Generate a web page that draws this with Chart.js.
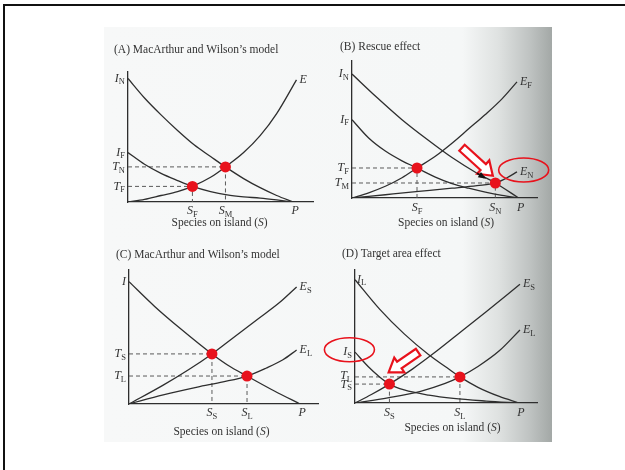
<!DOCTYPE html>
<html lang="en">
<head>
<meta charset="UTF-8" />
<title>Island biogeography models</title>
<script src="https://cdn.jsdelivr.net/npm/chart.js"></script>
<style>
  body { margin: 0; width: 625px; height: 470px; background: #fff; position: relative; overflow: hidden; }
  .frame { position: absolute; left: 3px; top: 4px; width: 660px; height: 500px; border-top: 2px solid #111; border-left: 2px solid #111; }
  .scan { position: absolute; left: 104px; top: 27px; width: 448px; height: 415px;
          background: linear-gradient(to right, #f7f8f8 0%, #f5f7f7 80%, #dfe2e1 88%, #bfc3c2 95%, #a3a8a6 100%); }
  canvas { position: absolute; }
</style>
</head>
<body>
<div class="frame"></div>
<div class="scan"></div>
<canvas id="chartA" width="224" height="210" style="left:104px;top:30px"></canvas>
<canvas id="chartB" width="224" height="210" style="left:328px;top:30px"></canvas>
<canvas id="chartC" width="224" height="202" style="left:104px;top:240px"></canvas>
<canvas id="chartD" width="234" height="202" style="left:318px;top:240px"></canvas>
<script>
// species (x, P = 100) vs rate (y)

// (A) MacArthur and Wilson's model
const aImmNear = [[0,95],[10,80],[20,67],[30,55],[40,44],[50,35],[59,27],[70,18],[80,11],[90,5],[100,0]];
const aImmFar = [[0,38],[10,29],[20,22],[30,16.5],[39,12],[50,8],[60,5.5],[70,4],[80,3],[90,1.6],[100,0]];
const aExt = [[0,0],[10,2],[20,5],[30,8],[39,12],[50,19],[59,27],[70,38],[80,51],[90,68],[102,94]];
const aEquil = [[39,12],[59,27]];

// (B) Rescue effect
const bImmNear = [[0,95],[15,77],[30,60],[45,45],[60,31],[75,19],[86,11.5],[100,0]];
const bImmFar = [[0,60],[10,46],[20,36],[30,28.5],[39,23],[50,16],[60,11],[70,7.5],[80,4.5],[90,2],[100,0]];
const bExtFar = [[0,0],[10,4],[20,9],[30,15.5],[39,23],[50,32],[60,42],[70,53],[80,64],[90,76],[99,89]];
const bExtNear = [[0,0],[20,2.5],[40,5],[60,7.5],[75,9.5],[86,11.5],[93,15.5],[99,20]];
const bEquil = [[39,23],[86,11.5]];

// (C) MacArthur and Wilson's model
const cImm = [[0,94],[15,75],[30,58],[48.5,38.5],[60,28],[69,21.5],[85,10],[100,0]];
const cExtSmall = [[0,0],[20,14.5],[35,26.5],[48.5,38.5],[60,50],[75,65],[88,78],[98,90]];
const cExtLarge = [[0,0],[20,7],[40,13],[55,17],[69,21.5],[80,27.5],[90,34],[98,41.5]];
const cEquil = [[48.5,38.5],[69,21.5]];

// (D) Target area effect
const dImmLarge = [[0,94.6],[15,72],[30,53],[45,37],[55,28],[64,20],[75,12],[88,5],[100,0]];
const dImmSmall = [[0,39],[8,28],[15,20],[21,14.5],[30,10],[45,6],[60,3.5],[80,1.5],[100,0]];
const dExtSmall = [[0,0],[10,6.5],[21,14.5],[35,26],[50,40],[65,55],[80,70],[100.6,91]];
const dExtLarge = [[0,0],[20,4],[40,9],[55,15],[64,20],[75,28],[88,40],[100.6,56]];
const dEquil = [[21,14.5],[64,20]];

// axis labels: [letter, subscript, value]
const aYLabels = [["I","N",95],["I","F",38],["T","N",27],["T","F",12]];
const aXLabels = [["S","F",39],["S","M",59],["P","",100]];
const bYLabels = [["I","N",95],["I","F",60],["T","F",23],["T","M",11.5]];
const bXLabels = [["S","F",39],["S","N",86],["P","",100]];
const cYLabels = [["I","",94],["T","S",38.5],["T","L",21.5]];
const cXLabels = [["S","S",48.5],["S","L",69],["P","",100]];
const dYLabels = [["I","S",39],["T","L",20.5],["T","S",14]];
const dXLabels = [["S","S",21],["S","L",64],["P","",100]];

const INK = "#2e2e2e";
const RED = "#e8121c";
const SERIF = '"Liberation Serif", "DejaVu Serif", serif';

function pts(arr) { return arr.map(p => ({ x: p[0], y: p[1] })); }

function curve(arr) {
  return { data: pts(arr), showLine: true, borderColor: INK, borderWidth: 1.3,
           pointRadius: 0, cubicInterpolationMode: "monotone", order: 2 };
}
function guide(eq) {
  return { data: [{x:0,y:eq[1]},{x:eq[0],y:eq[1]},{x:eq[0],y:0}], showLine: true,
           borderColor: "#5a5a5a", borderWidth: 1, borderDash: [4, 3], pointRadius: 0, order: 3 };
}
function dots(eqs) {
  return { data: pts(eqs), showLine: false, pointRadius: 5.5, pointHoverRadius: 5.5,
           pointBackgroundColor: RED, pointBorderWidth: 0, order: 0 };
}

function subText(ctx, main, sub, x, y, align) {
  ctx.font = "italic 12px " + SERIF;
  const wm = ctx.measureText(main).width;
  ctx.font = "8.5px " + SERIF;
  const ws = ctx.measureText(sub).width;
  let x0 = x;
  if (align === "right") x0 = x - wm - ws;
  if (align === "center") x0 = x - (wm + ws) / 2;
  ctx.textAlign = "left";
  ctx.textBaseline = "middle";
  ctx.font = "italic 12px " + SERIF;
  ctx.fillText(main, x0, y);
  ctx.font = "8.5px " + SERIF;
  ctx.fillText(sub, x0 + wm, y + 3.5);
}

function hollowArrow(ctx, x0, y0, x1, y1) {
  const ang = Math.atan2(y1 - y0, x1 - x0);
  const len = Math.hypot(x1 - x0, y1 - y0);
  const head = 13, hw = 9, sw = 4;
  ctx.save();
  ctx.translate(x0, y0);
  ctx.rotate(ang);
  ctx.beginPath();
  ctx.moveTo(0, -sw);
  ctx.lineTo(len - head, -sw);
  ctx.lineTo(len - head, -hw);
  ctx.lineTo(len, 0);
  ctx.lineTo(len - head, hw);
  ctx.lineTo(len - head, sw);
  ctx.lineTo(0, sw);
  ctx.closePath();
  ctx.fillStyle = "#fff";
  ctx.fill();
  ctx.lineWidth = 2.2;
  ctx.strokeStyle = RED;
  ctx.stroke();
  ctx.restore();
}

const notesPlugin = {
  id: "notes",
  afterDatasetsDraw(chart, args, o) {
    const { ctx, chartArea: ca } = chart;
    const sx = chart.scales.x, sy = chart.scales.y;
    ctx.save();
    ctx.fillStyle = "#333";
    // panel title
    ctx.font = "11.5px " + SERIF;
    ctx.textAlign = "left";
    ctx.textBaseline = "middle";
    ctx.fillText(o.title, ca.left + o.titleOff[0], ca.top + o.titleOff[1]);
    // x axis title
    ctx.textAlign = "center";
    ctx.fillText("Species on island (", sx.getPixelForValue(o.xTitleAt) - 4, ca.bottom + o.xTitleDy);
    const wt = ctx.measureText("Species on island (").width;
    const cx = sx.getPixelForValue(o.xTitleAt) - 4 + wt / 2;
    ctx.font = "italic 11.5px " + SERIF;
    ctx.textAlign = "left";
    ctx.fillText("S", cx, ca.bottom + o.xTitleDy);
    const ws = ctx.measureText("S").width;
    ctx.font = "11.5px " + SERIF;
    ctx.fillText(")", cx + ws, ca.bottom + o.xTitleDy);
    // axis letters
    o.yLabels.forEach(l => subText(ctx, l[0], l[1], ca.left - 3, sy.getPixelForValue(l[2]), "right"));
    o.xLabels.forEach(l => subText(ctx, l[0], l[1], sx.getPixelForValue(l[2]) + (l[0] === "P" ? 2 : 0), ca.bottom + o.xLabelDy, "center"));
    (o.inLabels || []).forEach(l => subText(ctx, l[0], l[1], ca.left + 2, sy.getPixelForValue(l[2]), "left"));
    (o.endLabels || []).forEach(l => subText(ctx, l[0], l[1], sx.getPixelForValue(l[2]) + 3, sy.getPixelForValue(l[3]), "left"));
    // red highlights
    (o.ellipses || []).forEach(e => {
      ctx.beginPath();
      ctx.ellipse(sx.getPixelForValue(e[0]), sy.getPixelForValue(e[1]), e[2], e[3], 0, 0, Math.PI * 2);
      ctx.lineWidth = 1.6;
      ctx.strokeStyle = RED;
      ctx.stroke();
    });
    (o.arrows || []).forEach(a => hollowArrow(ctx,
      sx.getPixelForValue(a[0]), sy.getPixelForValue(a[1]),
      sx.getPixelForValue(a[2]), sy.getPixelForValue(a[3])));
    (o.pointers || []).forEach(a => {
      const x0 = sx.getPixelForValue(a[0]), y0 = sy.getPixelForValue(a[1]);
      const x1 = sx.getPixelForValue(a[2]), y1 = sy.getPixelForValue(a[3]);
      const ang = Math.atan2(y1 - y0, x1 - x0);
      ctx.beginPath();
      ctx.moveTo(x0, y0);
      ctx.lineTo(x1, y1);
      ctx.lineWidth = 1.6;
      ctx.strokeStyle = "#111";
      ctx.stroke();
      ctx.beginPath();
      ctx.moveTo(x1 + 2 * Math.cos(ang), y1 + 2 * Math.sin(ang));
      ctx.lineTo(x1 - 6 * Math.cos(ang) + 3 * Math.sin(ang), y1 - 6 * Math.sin(ang) - 3 * Math.cos(ang));
      ctx.lineTo(x1 - 6 * Math.cos(ang) - 3 * Math.sin(ang), y1 - 6 * Math.sin(ang) + 3 * Math.cos(ang));
      ctx.closePath();
      ctx.fillStyle = "#111";
      ctx.fill();
    });
    ctx.restore();
  }
};

function axis(max) {
  return { type: "linear", min: 0, max: max,
           grid: { display: false, drawTicks: false },
           ticks: { display: false },
           border: { display: true, color: INK, width: 1.3 } };
}

function panel(id, datasets, xMax, yMax, pad, notes) {
  return new Chart(document.getElementById(id), {
    type: "scatter",
    data: { datasets: datasets },
    options: {
      responsive: false,
      animation: false,
      events: [],
      layout: { padding: pad },
      plugins: { legend: { display: false }, tooltip: { enabled: false }, notes: notes },
      scales: { x: axis(xMax), y: axis(yMax) }
    },
    plugins: [notesPlugin]
  });
}

panel("chartA",
  [dots(aEquil), curve(aImmNear), curve(aImmFar), curve(aExt), guide(aEquil[0]), guide(aEquil[1])],
  112, 100, { left: 24, top: 42, right: 15, bottom: 38 },
  { title: "(A) MacArthur and Wilson\u2019s model", titleOff: [-14, -22],
    xTitleAt: 55, xTitleDy: 21, xLabelDy: 9,
    yLabels: aYLabels, xLabels: aXLabels,
    endLabels: [["E", "", 102, 94]] });

panel("chartB",
  [dots(bEquil), curve(bImmNear), curve(bImmFar), curve(bExtFar), curve(bExtNear), guide(bEquil[0]), guide(bEquil[1])],
  111, 105, { left: 24, top: 31, right: 15, bottom: 42 },
  { title: "(B) Rescue effect", titleOff: [-12, -14],
    xTitleAt: 56, xTitleDy: 25, xLabelDy: 10,
    yLabels: bYLabels, xLabels: bXLabels,
    endLabels: [["E", "F", 99, 89], ["E", "N", 99, 20]],
    ellipses: [[103, 21.5, 25, 12]],
    arrows: [[66, 38.5, 84.5, 17]],
    pointers: [[75, 19, 79.5, 15.5]] });

panel("chartC",
  [dots(cEquil), curve(cImm), curve(cExtSmall), curve(cExtLarge), guide(cEquil[0]), guide(cEquil[1])],
  110.5, 103, { left: 25, top: 30, right: 10, bottom: 38 },
  { title: "(C) MacArthur and Wilson\u2019s model", titleOff: [-13, -15],
    xTitleAt: 53.6, xTitleDy: 28, xLabelDy: 9,
    yLabels: cYLabels, xLabels: cXLabels,
    endLabels: [["E", "S", 98, 90], ["E", "L", 98, 41.5]] });

panel("chartD",
  [dots(dEquil), curve(dImmLarge), curve(dImmSmall), curve(dExtSmall), curve(dExtLarge), guide(dEquil[0]), guide(dEquil[1])],
  111, 102, { left: 37, top: 30, right: 15, bottom: 39 },
  { title: "(D) Target area effect", titleOff: [-13, -16],
    xTitleAt: 59, xTitleDy: 25, xLabelDy: 10,
    yLabels: dYLabels, xLabels: dXLabels,
    inLabels: [["I", "L", 94.6]],
    endLabels: [["E", "S", 100.6, 91], ["E", "L", 100.6, 56]],
    ellipses: [[-3.4, 40.8, 25, 12]],
    arrows: [[38.5, 39, 20.5, 23.5]] });
</script>
</body>
</html>
